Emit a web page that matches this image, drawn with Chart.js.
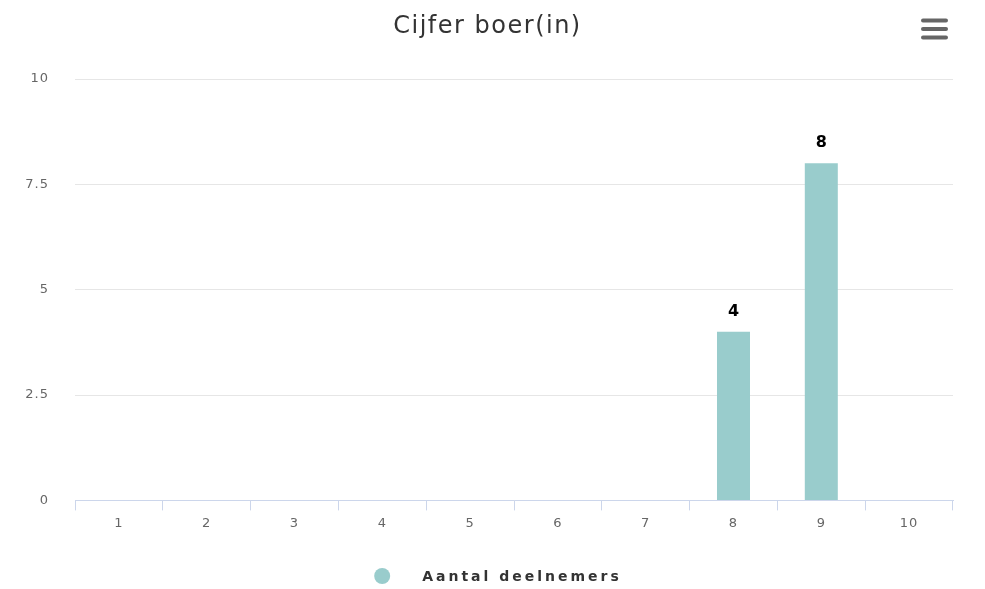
<!doctype html>
<html lang="nl">

<head>
  <meta charset="utf-8">
  <title>Cijfer boer(in)</title>
  <script src="https://cdn.jsdelivr.net/npm/chart.js"></script>
  <style>
    html, body { margin: 0; padding: 0; background: #fff; }
    #wrap { width: 985px; height: 589px; }
  </style>
</head>

<body>
  <div id="wrap"><canvas id="cijferChart" width="985" height="589"></canvas></div>

  <script>
    // data
    const categorieen = ['1', '2', '3', '4', '5', '6', '7', '8', '9', '10'];
    const deelnemers = [0, 0, 0, 0, 0, 0, 0, 4, 8, 0];
    const yTicks = [0, 2.5, 5, 7.5, 10];
    const titel = 'Cijfer boer(in)';
    const reeksNaam = 'Aantal deelnemers';

    const kleur = 'rgb(153, 204, 204)';
    const font = '"DejaVu Sans", Verdana, sans-serif';

    // titel, menu knop, legenda en waarden boven de staven
    const extras = {
      id: 'extras',
      beforeDraw(chart) {
        chart.ctx.letterSpacing = '1px';
      },
      afterDraw(chart) {
        const ctx = chart.ctx;
        ctx.save();
        // titel
        ctx.letterSpacing = '1.5px';
        ctx.fillStyle = '#333333';
        ctx.font = '24px ' + font;
        ctx.textAlign = 'center';
        ctx.textBaseline = 'alphabetic';
        ctx.fillText(titel, 487.5, 33);

        // menu knop
        ctx.strokeStyle = '#666666';
        ctx.lineWidth = 4;
        ctx.lineCap = 'round';
        [20.5, 29, 37.5].forEach(y => {
          ctx.beginPath();
          ctx.moveTo(923, y);
          ctx.lineTo(946, y);
          ctx.stroke();
        });

        // legenda
        ctx.letterSpacing = '3px';
        ctx.font = 'bold 14px ' + font;
        const tw = ctx.measureText(reeksNaam).width;
        const totaal = 16 + 32 + tw;
        const lx = 498 - totaal / 2;
        const ly = 576;
        ctx.fillStyle = chart.data.datasets[0].backgroundColor;
        ctx.beginPath();
        ctx.arc(lx + 8, ly, 8, 0, Math.PI * 2);
        ctx.fill();
        ctx.fillStyle = '#333333';
        ctx.textAlign = 'left';
        ctx.textBaseline = 'middle';
        ctx.fillText(reeksNaam, lx + 48, ly + 1);

        // waarden boven de staven
        ctx.letterSpacing = '0px';
        const meta = chart.getDatasetMeta(0);
        ctx.fillStyle = '#000000';
        ctx.font = 'bold 16px ' + font;
        ctx.textAlign = 'center';
        ctx.textBaseline = 'middle';
        meta.data.forEach((bar, i) => {
          const v = deelnemers[i];
          if (!v) return;
          ctx.fillText(String(v), bar.x, bar.y - 20);
        });
        ctx.restore();
      }
    };

    new Chart(document.getElementById('cijferChart'), {
      type: 'bar',
      data: {
        labels: categorieen,
        datasets: [{
          label: reeksNaam,
          data: deelnemers,
          backgroundColor: kleur,
          borderWidth: 0,
          categoryPercentage: 1,
          barPercentage: 0.376
        }]
      },
      plugins: [extras],
      options: {
        responsive: false,
        animation: false,
        layout: { padding: { top: 79, right: 32, left: 0, bottom: 53 } },
        plugins: {
          title: { display: false },
          tooltip: { enabled: false },
          legend: { display: false }
        },
        scales: {
          x: {
            grid: {
              drawOnChartArea: false,
              color: '#ccd6eb',
              tickLength: 10,
              offset: true
            },
            border: { color: '#ccd6eb', width: 1 },
            ticks: {
              color: '#666666',
              padding: 5,
              font: { family: font, size: 13 }
            }
          },
          y: {
            min: 0,
            max: 10,
            afterBuildTicks(scale) {
              scale.ticks = yTicks.map(v => ({ value: v }));
            },
            afterFit(scale) {
              scale.width = 75;
            },
            grid: { color: '#e6e6e6', drawTicks: false },
            border: { display: false },
            ticks: {
              color: '#666666',
              padding: 26,
              font: { family: font, size: 13 }
            }
          }
        }
      }
    });
  </script>
</body>

</html>
